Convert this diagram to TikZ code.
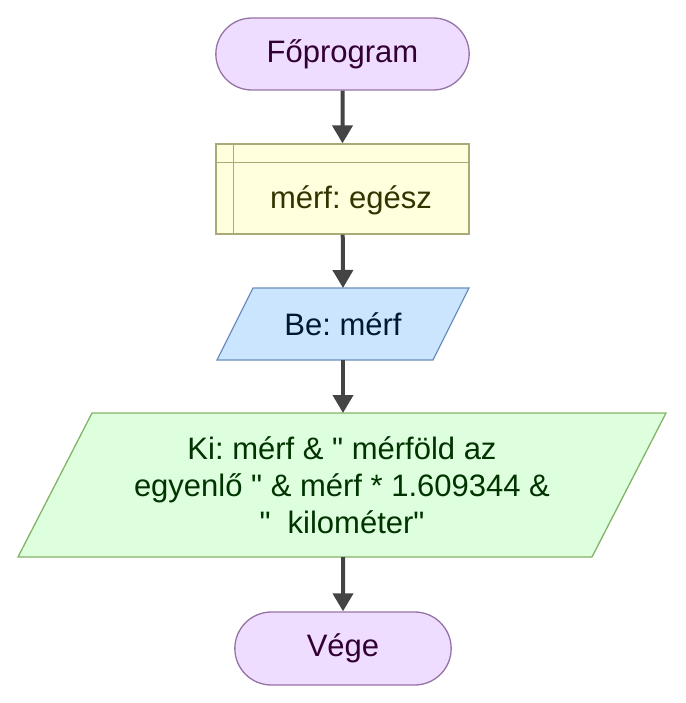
\documentclass[tikz,border=0pt]{standalone}
\usepackage{fontspec}
\setmainfont{Liberation Sans}
\usetikzlibrary{arrows.meta,shapes.misc}
\definecolor{termfill}{HTML}{EEDDFF}
\definecolor{termdraw}{HTML}{9673A6}
\definecolor{termtext}{HTML}{330033}
\definecolor{declfill}{HTML}{FFFFDD}
\definecolor{decldraw}{HTML}{AAAA77}
\definecolor{decltext}{HTML}{333300}
\definecolor{infill}{HTML}{CCE5FF}
\definecolor{indraw}{HTML}{6C8EBF}
\definecolor{intext}{HTML}{001933}
\definecolor{outfill}{HTML}{DDFFDD}
\definecolor{outdraw}{HTML}{82B366}
\definecolor{outtext}{HTML}{003300}
\definecolor{arrowgray}{HTML}{444444}
\frenchspacing

\begin{document}
\begin{tikzpicture}[x=1pt,y=-1pt,
  font=\fontsize{31}{37}\selectfont,
  term/.style={rounded rectangle,draw=termdraw,fill=termfill,text=termtext,line width=1.3pt},
  decl/.style={rectangle,draw=decldraw,fill=declfill,line width=1.3pt},
  inbox/.style={draw=indraw,fill=infill,line width=1.3pt},
  outbox/.style={draw=outdraw,fill=outfill,line width=1.3pt},
  arr/.style={draw=arrowgray,line width=4pt,-{Triangle[width=20pt,length=18pt]}}]
\useasboundingbox (0,0) rectangle (685,703);

% start
\node[term,minimum width=260pt,minimum height=72pt] (start) at (342.5,54) {Főprogram};

% declaration
\node[decl,minimum width=253pt,minimum height=90pt] (var) at (342.5,189) {};
\draw[decldraw,line width=1.3pt] ([xshift=18pt]var.north west) -- ([xshift=18pt]var.south west);
\draw[decldraw,line width=1.3pt] ([yshift=-19pt]var.north west) -- ([yshift=-19pt]var.north east);
\node[text=decltext] (vartext) at (351,200) {mérf: egész};

% input
\draw[inbox] (217,360) -- (253,288) -- (469,288) -- (433,360) -- cycle;
\coordinate (intop) at (343,288);
\coordinate (inbot) at (343,360);
\node[text=intext] (in) at (343,324) {Be: mérf};

% output
\draw[outbox] (18,557) -- (92,413) -- (666,413) -- (592,557) -- cycle;
\coordinate (outtop) at (343,413);
\coordinate (outbot) at (343,557);
\node[text=outtext,align=center] (out) at (342,485)
  {Ki: mérf \& \textquotedbl{} mérföld az\\egyenlő \textquotedbl{} \& mérf * 1.609344 \&\\\textquotedbl\ \ kilométer\textquotedbl};

% end
\node[term,minimum width=223pt,minimum height=73pt] (stop) at (343,648.5) {Vége};

\draw[arr] (start) -- (var);
\draw[arr] (var) -- (intop);
\draw[arr] (inbot) -- (outtop);
\draw[arr] (outbot) -- (stop);
\end{tikzpicture}
\end{document}
